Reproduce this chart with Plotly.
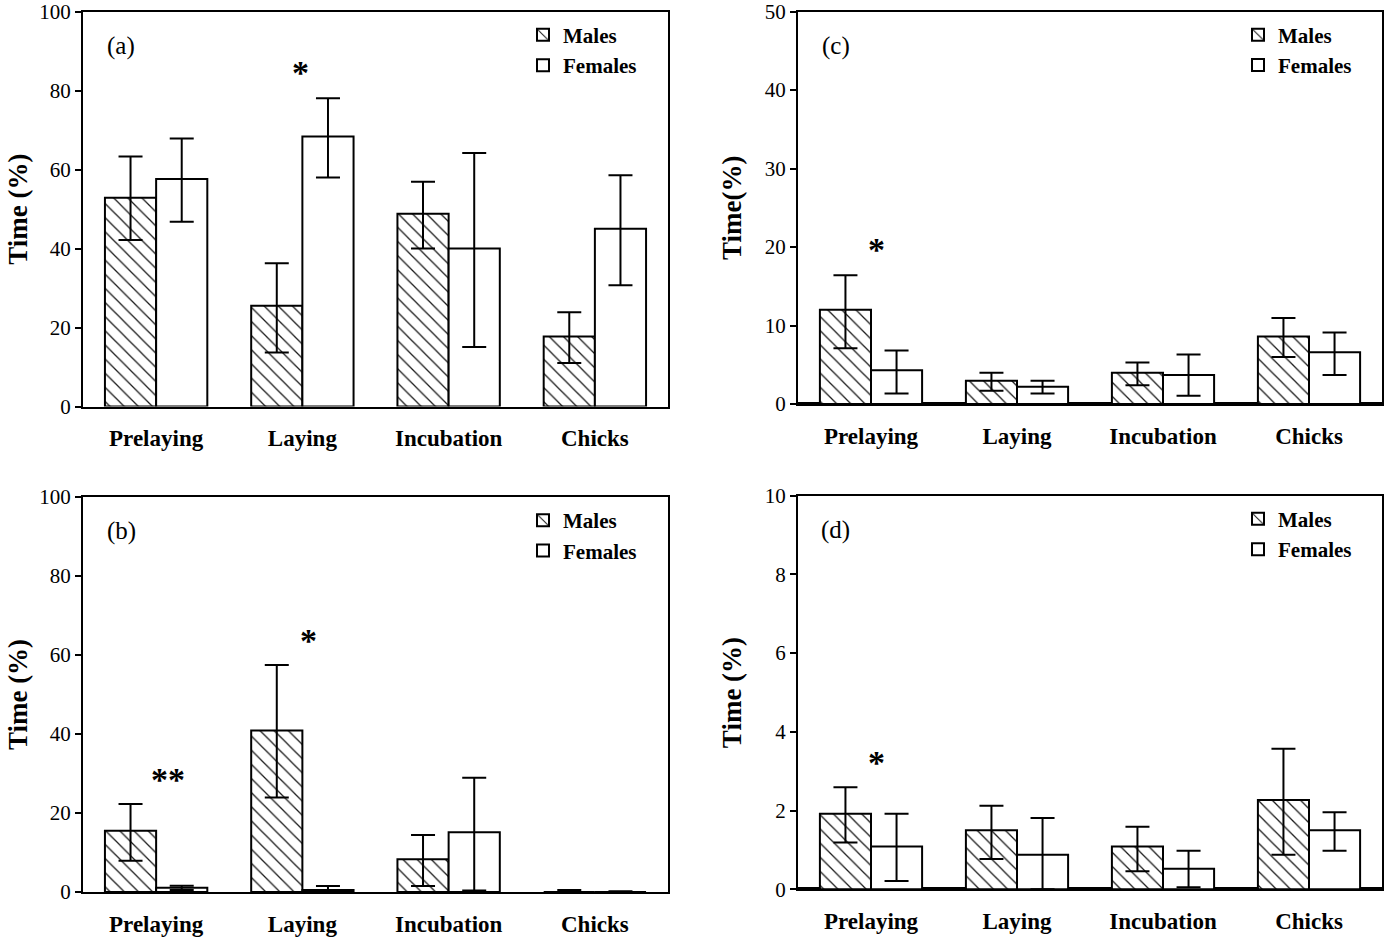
import plotly.graph_objects as go

categories = ["Prelaying", "Laying", "Incubation", "Chicks"]

# Panel (a)
a_males = [52.9, 25.5, 48.8, 17.7]
a_males_hi = [63.3, 36.3, 56.9, 23.9]
a_males_lo = [42.2, 13.7, 40.0, 11.0]
a_females = [57.6, 68.4, 40.0, 45.0]
a_females_hi = [67.9, 78.1, 64.2, 58.6]
a_females_lo = [46.8, 58.0, 15.1, 30.7]

# Panel (b)
b_males = [15.5, 40.9, 8.3, 0.0]
b_males_hi = [22.3, 57.5, 14.4, 0.5]
b_males_lo = [7.9, 23.9, 1.5, 0.0]
b_females = [1.1, 0.5, 15.1, 0.0]
b_females_hi = [1.6, 1.5, 28.9, 0.2]
b_females_lo = [0.5, 0.0, 0.4, 0.0]

# Panel (c)
c_males = [12.0, 2.96, 3.97, 8.6]
c_males_hi = [16.4, 3.97, 5.3, 10.95]
c_males_lo = [7.1, 1.7, 2.4, 6.0]
c_females = [4.3, 2.2, 3.7, 6.6]
c_females_hi = [6.8, 2.96, 6.3, 9.1]
c_females_lo = [1.35, 1.35, 1.05, 3.7]

# Panel (d)
d_males = [1.92, 1.5, 1.09, 2.27]
d_males_hi = [2.59, 2.12, 1.59, 3.57]
d_males_lo = [1.19, 0.77, 0.46, 0.88]
d_females = [1.09, 0.88, 0.52, 1.5]
d_females_hi = [1.92, 1.81, 0.98, 1.96]
d_females_lo = [0.21, 0.0, 0.05, 0.98]

# Significance marks: (panel, category position, y value, text)
star_panel = ["a", "b", "b", "c", "d"]
star_x = [0.99, 0.08, 1.045, 0.04, 0.04]
star_y = [85.7, 29.6, 64.8, 20.2, 3.32]
star_text = ["*", "**", "*", "*", "*"]

panel_labels = ["(a)", "(b)", "(c)", "(d)"]
y_titles = ["Time (%)", "Time (%)", "Time(%)", "Time (%)"]
y_max = [100, 100, 50, 10]
y_dtick = [20, 20, 10, 2]

FONT = "Liberation Serif"
W, H = 1385, 939

panels = {
    "a": dict(m=a_males, mh=a_males_hi, ml=a_males_lo, f=a_females, fh=a_females_hi, fl=a_females_lo),
    "b": dict(m=b_males, mh=b_males_hi, ml=b_males_lo, f=b_females, fh=b_females_hi, fl=b_females_lo),
    "c": dict(m=c_males, mh=c_males_hi, ml=c_males_lo, f=c_females, fh=c_females_hi, fl=c_females_lo),
    "d": dict(m=d_males, mh=d_males_hi, ml=d_males_lo, f=d_females, fh=d_females_hi, fl=d_females_lo),
}
keys = ["a", "b", "c", "d"]
axis_ids = ["", "2", "3", "4"]

# plot-area boxes in pixels (left, right, top, bottom)
boxes = [(83, 668, 11.7, 406.5), (83, 668, 497, 892), (798, 1382, 11.5, 404), (798, 1382, 495.7, 889.3)]


def fx(px):
    return px / W


def fy(py):
    return 1 - py / H


fig = go.Figure()

for i, k in enumerate(keys):
    p = panels[k]
    aid = axis_ids[i]
    leg = "legend" + aid
    err_m = dict(type="data", symmetric=False,
                 array=[h - v for h, v in zip(p["mh"], p["m"])],
                 arrayminus=[v - l for v, l in zip(p["m"], p["ml"])],
                 color="black", thickness=2, width=12)
    err_f = dict(type="data", symmetric=False,
                 array=[h - v for h, v in zip(p["fh"], p["f"])],
                 arrayminus=[v - l for v, l in zip(p["f"], p["fl"])],
                 color="black", thickness=2, width=12)
    fig.add_trace(go.Bar(
        x=categories, y=p["m"], name="Males", legend=leg,
        xaxis="x" + aid, yaxis="y" + aid,
        marker=dict(color="white", line=dict(color="black", width=2),
                    pattern=dict(shape="\\", fgcolor="#1a1a1a", bgcolor="white", size=10, solidity=0.13)),
        error_y=err_m, offsetgroup="m",
    ))
    fig.add_trace(go.Bar(
        x=categories, y=p["f"], name="Females", legend=leg,
        xaxis="x" + aid, yaxis="y" + aid,
        marker=dict(color="white", line=dict(color="black", width=2)),
        error_y=err_f, offsetgroup="f",
    ))

layout = dict(
    template="none",
    width=W, height=H,
    margin=dict(l=0, r=0, t=0, b=0, autoexpand=False),
    paper_bgcolor="white", plot_bgcolor="white",
    barmode="group", bargap=0.3, bargroupgap=0,
    font=dict(family=FONT, color="black"),
    annotations=[],
)

for i, k in enumerate(keys):
    aid = axis_ids[i]
    l, r, t, b = boxes[i]
    thick_zero = k in ("c", "d")
    layout["xaxis" + aid] = dict(
        domain=[fx(l), fx(r)], anchor="y" + aid, range=[-0.5, 3.5], type="category",
        automargin=False,
        showline=True, linecolor="black", linewidth=2, mirror=True,
        ticks="", showgrid=False, zeroline=False,
        tickfont=dict(family=FONT, size=23, weight="bold", color="black"),
        ticklabelstandoff=10,
    )
    layout["yaxis" + aid] = dict(
        domain=[fy(b), fy(t)], anchor="x" + aid, range=[0, y_max[i]],
        tickmode="linear", tick0=0, dtick=y_dtick[i],
        automargin=False, ticklabeloverflow="allow",
        showline=True, linecolor="black", linewidth=2, mirror=True,
        ticks="outside", ticklen=6, tickwidth=2, tickcolor="black",
        showgrid=False,
        zeroline=thick_zero, zerolinecolor="black", zerolinewidth=4,
        tickfont=dict(family=FONT, size=21, color="black"),
        title=dict(text=y_titles[i], font=dict(family=FONT, size=27, weight="bold", color="black"),
                   standoff=4 if k in ("a", "b") else 15),
    )
    # legend inside top right
    layout["legend" + aid] = dict(
        x=fx(l + 440), y=fy(t + 3), xanchor="left", yanchor="top",
        bgcolor="rgba(0,0,0,0)", borderwidth=0,
        font=dict(family=FONT, size=21, weight="bold", color="black"),
        traceorder="normal",
    )
    layout["annotations"].append(dict(
        text=panel_labels[i], xref="x" + aid + " domain", yref="y" + aid + " domain",
        x=0.065, y=0.913, showarrow=False, xanchor="center", yanchor="middle",
        font=dict(family=FONT, size=25, color="black"),
    ))

for pk, sx, sy, st in zip(star_panel, star_x, star_y, star_text):
    aid = axis_ids[keys.index(pk)]
    layout["annotations"].append(dict(
        text=st, x=sx, y=sy, xref="x" + aid, yref="y" + aid, showarrow=False,
        xanchor="center", yanchor="middle", yshift=-4,
        font=dict(family=FONT, size=34, weight="bold", color="black"),
    ))

fig.update_layout(**layout)
fig.write_html("out.html",
               config={"displayModeBar": False},
               post_script="document.body.style.margin='0';document.body.style.overflow='hidden';")
